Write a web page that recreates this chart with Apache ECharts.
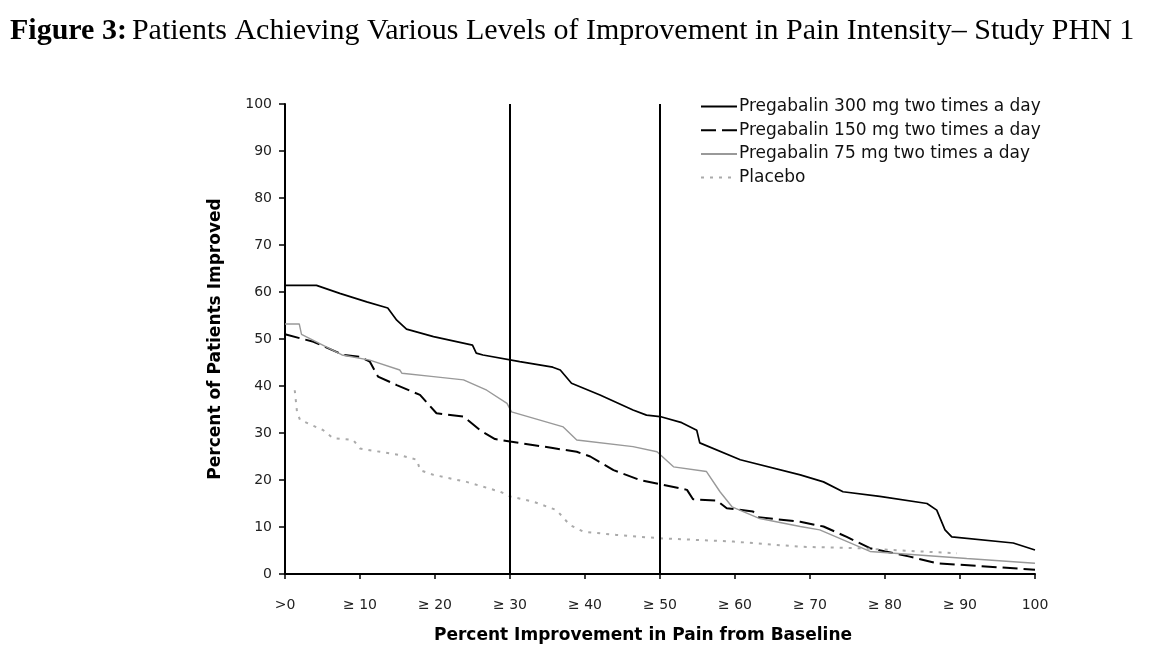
<!DOCTYPE html>
<html>
<head>
<meta charset="utf-8">
<script src="https://cdn.jsdelivr.net/npm/echarts@6/dist/echarts.min.js"></script>
<style>
html,body{margin:0;padding:0;background:#fff;}
#c{width:1157px;height:653px;}
</style>
</head>
<body>
<div id="c"></div>
<script>
const seriesNames = [
  'Pregabalin 300 mg two times a day',
  'Pregabalin 150 mg two times a day',
  'Pregabalin 75 mg two times a day',
  'Placebo'
];
const xTickLabels = ['>0','\u2265 10','\u2265 20','\u2265 30','\u2265 40','\u2265 50','\u2265 60','\u2265 70','\u2265 80','\u2265 90','100'];
const yTickLabels = ['0','10','20','30','40','50','60','70','80','90','100'];
const thresholdLines = [30, 50];

const pts300 = [[0,61.4],[4.2,61.4],[7.3,59.7],[10.9,57.9],[13.7,56.6],[14.9,54],[16.2,52.1],[19.8,50.5],[25,48.7],[25.5,47],[26.4,46.6],[31.3,45.2],[35.7,44],[36.7,43.4],[38.2,40.6],[42,38.1],[46.4,34.9],[48.2,33.8],[50,33.5],[52.9,32.2],[54.9,30.6],[55.3,27.9],[60.7,24.3],[68.7,21.1],[71.8,19.6],[74.4,17.5],[79.3,16.5],[85.6,15],[86.9,13.6],[88,9.4],[88.9,7.9],[97.1,6.6],[100,5.1]];
const pts150 = [[0,51],[3.8,49.4],[7.8,46.6],[10,46.2],[11.3,45.2],[12.4,42],[14.9,40.2],[18,38.1],[20.2,34.2],[23.8,33.5],[26,30.6],[28,28.7],[30,28.2],[35.7,26.8],[38.9,26],[40.7,25],[43.8,22.1],[47.3,20],[50,19.1],[53.6,17.9],[54.4,15.9],[57.6,15.6],[58.9,14],[62.4,13.3],[63.1,12.1],[68.7,11.1],[71.8,10.1],[74.9,7.9],[78,5.5],[83.3,3.7],[86.9,2.3],[100,0.9]];
const pts75 = [[0,53.2],[1.9,53.2],[2.2,51],[7.6,46.6],[11.3,45.5],[15.3,43.4],[15.6,42.7],[19.8,42],[23.8,41.3],[26.9,39.1],[29.6,36.3],[30.2,34.5],[37.1,31.3],[38.9,28.5],[46.4,27.1],[49.6,26],[51.8,22.8],[56.2,21.8],[58,17.5],[59.6,14.3],[63.3,11.8],[68.7,10.1],[71.3,9.4],[78,4.8],[90.9,3.3],[100,2.3]];
const ptsPlacebo = [[1.3,39.1],[1.6,34.5],[2,32.8],[5.1,30.6],[6.4,28.9],[9.1,28.5],[10,26.7],[15.3,25.3],[17.6,24.3],[18,22.1],[19.8,21.1],[24.2,19.6],[28.7,17.5],[30,16.5],[33.1,15.4],[36.2,13.6],[38,10.4],[39.8,9],[44.2,8.3],[50,7.6],[59.8,6.9],[68.7,5.8],[76.2,5.5],[89.6,4.4]];

const chart = echarts.init(document.getElementById('c'), null, {renderer:'canvas'});
const sans = 'DejaVu Sans, Liberation Sans, sans-serif';
const serif = 'Liberation Serif, Times New Roman, serif';
chart.setOption({
  backgroundColor: '#fff',
  animation: false,
  title: {
    text: '{b|Figure 3:} {n|Patients Achieving Various Levels of Improvement in Pain Intensity\u2013 Study PHN 1}',
    left: 5, top: 11,
    textStyle: {
      rich: {
        b: {fontFamily: serif, fontWeight: 'bold', fontSize: 30, color: '#000'},
        n: {fontFamily: serif, fontWeight: 'normal', fontSize: 30, color: '#000'}
      }
    }
  },
  legend: {
    orient: 'vertical',
    left: 695, top: 93,
    itemWidth: 36, itemHeight: 12, itemGap: 6.7,
    itemStyle: {opacity: 0},
    textStyle: {fontFamily: sans, fontSize: 17, color: '#111', padding: [0,0,0,-3]},
    data: seriesNames
  },
  grid: {left: 285, right: 122, top: 104, bottom: 79},
  xAxis: {
    type: 'value', min: 0, max: 100, interval: 10,
    name: 'Percent Improvement in Pain from Baseline',
    nameLocation: 'middle', nameGap: 53,
    nameTextStyle: {fontFamily: sans, fontSize: 17, fontWeight: 'bold', color: '#000', padding: [0, 34, 0, 0]},
    axisLine: {lineStyle: {color: '#000', width: 2}},
    axisTick: {length: 5, lineStyle: {color: '#000', width: 1.5}},
    axisLabel: {margin: 24, fontFamily: sans, fontSize: 14, color: '#222',
      formatter: v => xTickLabels[Math.round(v / 10)]},
    splitLine: {show: false}
  },
  yAxis: {
    type: 'value', min: 0, max: 100, interval: 10,
    name: 'Percent of Patients Improved',
    nameLocation: 'middle', nameGap: 61,
    nameTextStyle: {fontFamily: sans, fontSize: 17, fontWeight: 'bold', color: '#000'},
    axisLine: {show: true, lineStyle: {color: '#000', width: 2}},
    axisTick: {show: true, length: 6, lineStyle: {color: '#000', width: 1.5}},
    axisLabel: {margin: 13, fontFamily: sans, fontSize: 14, color: '#222',
      formatter: v => yTickLabels[Math.round(v / 10)]},
    splitLine: {show: false}
  },
  series: [
    {
      name: seriesNames[0], type: 'line', data: pts300, symbol: 'none',
      lineStyle: {color: '#000', width: 1.7, type: 'solid'}, itemStyle: {color: '#000'},
      markLine: {
        silent: true, symbol: 'none', label: {show: false},
        lineStyle: {color: '#000', width: 2, type: 'solid'},
        data: thresholdLines.map(v => ({xAxis: v}))
      }
    },
    {
      name: seriesNames[1], type: 'line', data: pts150, symbol: 'none',
      lineStyle: {color: '#000', width: 2, type: [15, 6]}, itemStyle: {color: '#000'}
    },
    {
      name: seriesNames[2], type: 'line', data: pts75, symbol: 'none',
      lineStyle: {color: '#999', width: 1.4, type: 'solid'}, itemStyle: {color: '#999'}
    },
    {
      name: seriesNames[3], type: 'line', data: ptsPlacebo, symbol: 'none',
      lineStyle: {color: '#aaa', width: 2, type: [3, 6]}, itemStyle: {color: '#aaa'}
    }
  ]
});
</script>
</body>
</html>
